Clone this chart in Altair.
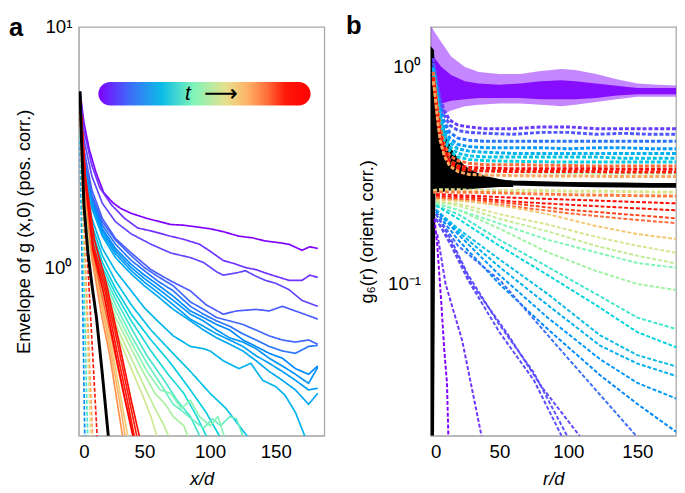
import altair as alt
import pandas as pd

FONT = "Liberation Sans"

# colour map for time t (0 = early / purple, 1 = late / red)
T_STOPS = [0.0, 0.15, 0.3, 0.45, 0.6, 0.7, 0.8, 0.88, 1.0]
T_COLORS = ["#8000ff", "#3c6ef8", "#0cbce6", "#80f5b8", "#e6e08e",
            "#ffb468", "#ff6a38", "#ff1a0a", "#ff0000"]

# ---------------- panel a : envelope of g(x,0) ----------------
# (t, style, x/d values, envelope values)
A_PURPLE = [
    (0.00, "solid", [1, 4, 8, 13, 19, 26, 32, 40, 52, 62, 70, 80, 92, 100, 110, 122, 132, 142, 152, 160, 170, 176, 182],
     [5.4, 4.0, 3.1, 2.5, 2.05, 1.86, 1.76, 1.68, 1.6, 1.55, 1.51, 1.5, 1.47, 1.45, 1.41, 1.35, 1.33, 1.29, 1.27, 1.25, 1.18, 1.22, 1.2]),
    (0.03, "solid", [1, 4, 10, 16, 25, 35, 45, 55, 70, 80, 92, 100, 110, 118, 127, 135, 142, 150, 160, 170, 176, 182],
     [5.3, 3.7, 2.66, 2.15, 1.82, 1.6, 1.46, 1.42, 1.35, 1.31, 1.25, 1.17, 1.07, 1.04, 1.0, 0.98, 0.95, 0.92, 0.885, 0.885, 0.93, 0.91]),
    (0.06, "solid", [1, 4, 10, 18, 28, 40, 55, 70, 85, 95, 105, 110, 120, 127, 135, 142, 150, 160, 170, 182],
     [5.3, 3.4, 2.4, 1.85, 1.55, 1.38, 1.25, 1.15, 1.1, 1.05, 0.96, 0.93, 0.95, 0.97, 0.92, 0.885, 0.86, 0.81, 0.73, 0.69]),
    (0.10, "solid", [1, 4, 10, 18, 28, 40, 55, 70, 85, 97, 110, 120, 135, 145, 155, 165, 177, 182],
     [5.2, 3.1, 2.1, 1.6, 1.32, 1.15, 0.98, 0.88, 0.8, 0.7, 0.64, 0.66, 0.67, 0.66, 0.69, 0.66, 0.625, 0.61]),
]
A_X_BLUE = [1, 4, 10, 18, 28, 40, 50, 60, 72, 85, 95, 105, 115, 125, 135, 145, 155, 165, 175, 182]
A_BLUE = [
    (0.13, "solid", A_X_BLUE, [5.2, 2.9, 2.0, 1.55, 1.3, 1.12, 1.0, 0.92, 0.84, 0.72, 0.67, 0.62, 0.6, 0.58, 0.55, 0.52, 0.5, 0.49, 0.5, 0.48]),
    (0.16, "solid", A_X_BLUE, [5.1, 2.8, 1.95, 1.5, 1.25, 1.07, 0.97, 0.88, 0.8, 0.69, 0.64, 0.6, 0.57, 0.53, 0.5, 0.47, 0.45, 0.44, 0.47, 0.475]),
    (0.19, "solid", A_X_BLUE, [5.1, 2.7, 1.9, 1.45, 1.2, 1.03, 0.93, 0.85, 0.76, 0.66, 0.62, 0.58, 0.55, 0.5, 0.47, 0.44, 0.42, 0.38, 0.36, 0.39]),
    (0.21, "solid", A_X_BLUE, [5.0, 2.65, 1.85, 1.42, 1.17, 1.0, 0.9, 0.82, 0.73, 0.64, 0.6, 0.55, 0.51, 0.49, 0.46, 0.42, 0.39, 0.36, 0.33, 0.385]),
    (0.23, "solid", A_X_BLUE, [5.0, 2.6, 1.8, 1.38, 1.14, 0.97, 0.87, 0.79, 0.7, 0.61, 0.57, 0.53, 0.5, 0.47, 0.43, 0.4, 0.37, 0.34, 0.31, 0.315]),
    (0.25, "solid", A_X_BLUE, [5.0, 2.55, 1.76, 1.35, 1.1, 0.94, 0.84, 0.76, 0.67, 0.6, 0.55, 0.51, 0.48, 0.45, 0.41, 0.37, 0.34, 0.31, 0.27, 0.3]),
    (0.28, "solid", [1, 4, 10, 18, 28, 40, 50, 60, 72, 85, 95, 100, 110, 122, 131, 140, 150, 157, 165, 172, 178],
     [5.0, 2.4, 1.6, 1.2, 0.97, 0.8, 0.68, 0.6, 0.52, 0.47, 0.46, 0.45, 0.41, 0.38, 0.4, 0.34, 0.32, 0.295, 0.25, 0.2, 0.17]),
]
A_CYAN = [
    (0.31, "solid", [1, 4, 10, 18, 28, 40, 55, 70, 85, 100, 112, 125, 135],
     [5.0, 2.3, 1.5, 1.12, 0.88, 0.7, 0.55, 0.45, 0.37, 0.3, 0.26, 0.21, 0.18]),
    (0.34, "solid", [1, 4, 10, 18, 28, 40, 55, 70, 85, 97, 107, 115],
     [5.0, 2.2, 1.42, 1.05, 0.82, 0.64, 0.5, 0.4, 0.31, 0.25, 0.2, 0.18]),
    (0.37, "solid", [1, 4, 10, 18, 28, 40, 55, 68, 80, 90, 97, 105],
     [5.0, 2.1, 1.35, 1.0, 0.78, 0.6, 0.45, 0.36, 0.3, 0.24, 0.2, 0.18]),
    (0.40, "solid", [1, 4, 10, 18, 28, 40, 52, 65, 75, 85, 92, 100],
     [5.0, 2.0, 1.3, 0.96, 0.74, 0.56, 0.43, 0.34, 0.28, 0.24, 0.2, 0.18]),
]
A_GREEN = [
    (0.43, "solid", [1, 4, 10, 18, 28, 40, 52, 62, 72, 80, 88, 95, 102, 108, 115, 120, 125, 128],
     [5.0, 1.95, 1.25, 0.92, 0.7, 0.52, 0.4, 0.33, 0.27, 0.25, 0.23, 0.215, 0.235, 0.22, 0.24, 0.235, 0.2, 0.18]),
    (0.46, "solid", [1, 4, 10, 18, 28, 40, 52, 62, 70, 78, 85, 92, 100, 106, 112],
     [5.0, 1.9, 1.2, 0.88, 0.66, 0.49, 0.37, 0.31, 0.3, 0.26, 0.28, 0.24, 0.22, 0.24, 0.19]),
    (0.50, "solid", [1, 4, 10, 18, 28, 40, 50, 58, 66, 72, 80, 86],
     [5.0, 1.85, 1.17, 0.84, 0.62, 0.46, 0.36, 0.3, 0.27, 0.24, 0.22, 0.18]),
    (0.53, "solid", [1, 4, 10, 18, 28, 40, 50, 58, 65, 72],
     [5.0, 1.8, 1.12, 0.8, 0.58, 0.42, 0.32, 0.26, 0.22, 0.18]),
    (0.56, "solid", [1, 4, 10, 18, 28, 40, 48, 55, 62],
     [5.0, 1.75, 1.07, 0.76, 0.55, 0.38, 0.3, 0.24, 0.18]),
]
A_DASHED = [
    (0.20, "dashed", [0.5, 2, 4.6, 5], [5.0, 1.6, 0.2, 0.17]),
    (0.40, "dashed", [0.5, 2.5, 6.8, 7.5], [5.0, 1.8, 0.2, 0.17]),
    (0.60, "dashed", [0.5, 3, 9, 10], [5.0, 1.9, 0.2, 0.17]),
    (0.72, "dashed", [0.5, 3, 10.5, 11.5], [5.0, 2.0, 0.2, 0.17]),
    (0.90, "dashed", [0.5, 4, 14, 15], [5.0, 2.0, 0.2, 0.17]),
]
A_ORANGE = [
    (0.65, "solid", [1, 5, 10, 18, 26, 33, 38], [5.1, 2.2, 1.2, 0.7, 0.44, 0.27, 0.19]),
    (0.70, "solid", [1, 5, 10, 18, 25, 32, 36], [5.1, 2.1, 1.15, 0.67, 0.43, 0.26, 0.19]),
    (0.75, "solid", [1, 5, 10, 17, 24, 30, 34], [5.1, 2.0, 1.1, 0.65, 0.42, 0.26, 0.19]),
    (0.80, "solid", [1, 5, 10, 18, 26, 34, 42], [5.1, 2.2, 1.2, 0.75, 0.48, 0.3, 0.2]),
]
A_RED = [
    (0.88, "solid", [1, 5, 11, 20, 30, 38, 45], [5.2, 2.4, 1.25, 0.85, 0.47, 0.29, 0.19]),
    (0.92, "solid", [1, 5, 11, 20, 29, 37, 43], [5.2, 2.3, 1.2, 0.8, 0.45, 0.28, 0.19]),
    (0.96, "solid", [1, 5, 12, 21, 31, 40, 47], [5.2, 2.4, 1.3, 0.86, 0.48, 0.28, 0.19]),
    (1.00, "solid", [1, 5, 11, 19, 28, 36, 42], [5.2, 2.3, 1.17, 0.78, 0.44, 0.27, 0.19]),
]
A_BLACK_X = [1, 2, 4, 7, 10, 13.5, 18, 22.5, 24]
A_BLACK_Y = [5.4, 3.5, 1.8, 1.15, 0.85, 0.62, 0.36, 0.2, 0.17]

# ---------------- panel b : g6(r) ----------------
B_BAND_X = [0.5, 3, 8, 15, 25, 35, 50, 65, 80, 95, 105, 120, 135, 150, 165, 182]
B_BAND_HI = [1.55, 1.45, 1.3, 1.12, 1.0, 0.95, 0.93, 0.93, 0.96, 0.98, 0.97, 0.93, 0.88, 0.84, 0.83, 0.82]
B_BAND_LO = [0.45, 0.55, 0.6, 0.63, 0.66, 0.67, 0.68, 0.68, 0.67, 0.66, 0.67, 0.69, 0.71, 0.73, 0.73, 0.73]
B_CORE_HI = [1.2, 1.1, 1.0, 0.92, 0.86, 0.84, 0.83, 0.84, 0.86, 0.87, 0.86, 0.84, 0.82, 0.8, 0.8, 0.8]
B_CORE_LO = [0.62, 0.66, 0.68, 0.7, 0.71, 0.72, 0.72, 0.72, 0.71, 0.71, 0.71, 0.72, 0.74, 0.75, 0.75, 0.75]

B_X_PLAT = [2, 3, 5, 7, 10, 14, 20, 28, 40, 60, 80, 100, 120, 140, 160, 182]
B_PLATEAU = [
    (0.04, "dashed", B_X_PLAT, [1.1, 1.0, 0.85, 0.72, 0.63, 0.57, 0.54, 0.53, 0.52, 0.52, 0.53, 0.53, 0.52, 0.52, 0.52, 0.52]),
    (0.09, "dashed", B_X_PLAT, [1.05, 0.97, 0.82, 0.69, 0.6, 0.54, 0.51, 0.5, 0.495, 0.49, 0.5, 0.5, 0.49, 0.495, 0.49, 0.49]),
    (0.16, "dashed", B_X_PLAT, [1.0, 0.95, 0.78, 0.66, 0.56, 0.5, 0.47, 0.46, 0.455, 0.455, 0.455, 0.455, 0.455, 0.455, 0.455, 0.455]),
    (0.22, "dashed", B_X_PLAT, [1.0, 0.92, 0.75, 0.63, 0.53, 0.47, 0.44, 0.43, 0.425, 0.425, 0.425, 0.42, 0.425, 0.425, 0.42, 0.42]),
    (0.27, "dashed", B_X_PLAT, [0.98, 0.9, 0.72, 0.6, 0.5, 0.45, 0.42, 0.41, 0.405, 0.4, 0.4, 0.4, 0.4, 0.4, 0.4, 0.4]),
    (0.31, "dashed", B_X_PLAT, [0.95, 0.88, 0.7, 0.57, 0.48, 0.43, 0.4, 0.39, 0.385, 0.385, 0.385, 0.385, 0.385, 0.38, 0.38, 0.38]),
    (0.34, "dashed", B_X_PLAT, [0.93, 0.86, 0.68, 0.55, 0.46, 0.41, 0.385, 0.375, 0.37, 0.368, 0.366, 0.365, 0.365, 0.365, 0.365, 0.365]),
    (0.80, "dashed", B_X_PLAT, [0.95, 0.85, 0.66, 0.53, 0.44, 0.39, 0.37, 0.36, 0.355, 0.355, 0.353, 0.352, 0.35, 0.35, 0.35, 0.35]),
    (0.50, "dashed", B_X_PLAT, [0.9, 0.8, 0.62, 0.5, 0.41, 0.37, 0.35, 0.34, 0.333, 0.33, 0.328, 0.326, 0.325, 0.325, 0.325, 0.325]),
    (0.95, "dashed", B_X_PLAT, [0.9, 0.82, 0.63, 0.5, 0.42, 0.37, 0.35, 0.345, 0.342, 0.34, 0.34, 0.34, 0.34, 0.338, 0.338, 0.338]),
    (0.90, "dashed", B_X_PLAT, [0.88, 0.8, 0.6, 0.48, 0.4, 0.36, 0.34, 0.335, 0.332, 0.33, 0.33, 0.33, 0.33, 0.328, 0.328, 0.328]),
    (0.72, "dashed", B_X_PLAT, [0.86, 0.78, 0.58, 0.46, 0.39, 0.35, 0.33, 0.32, 0.318, 0.316, 0.315, 0.315, 0.314, 0.313, 0.313, 0.313]),
    (0.58, "dashed", B_X_PLAT, [0.27, 0.27, 0.272, 0.272, 0.272, 0.272, 0.272, 0.271, 0.27, 0.27, 0.27, 0.268, 0.268, 0.267, 0.266, 0.265]),
    (0.78, "dashed", B_X_PLAT, [0.265, 0.265, 0.266, 0.266, 0.266, 0.266, 0.265, 0.265, 0.264, 0.262, 0.26, 0.258, 0.257, 0.256, 0.255, 0.254]),
]
B_DECAY = [
    (0.97, "dashed", [4, 30, 60, 100, 140, 182], [0.26, 0.255, 0.25, 0.245, 0.24, 0.235]),
    (0.93, "dashed", [4, 30, 60, 100, 140, 182], [0.255, 0.25, 0.24, 0.232, 0.225, 0.218]),
    (0.85, "dashed", [4, 30, 60, 100, 140, 182], [0.25, 0.245, 0.235, 0.22, 0.21, 0.2]),
    (0.80, "dashed", [4, 30, 60, 100, 140, 182], [0.25, 0.24, 0.228, 0.212, 0.2, 0.19]),
    (0.66, "dashed", [4, 30, 60, 85, 120, 150, 182], [0.245, 0.24, 0.225, 0.21, 0.185, 0.17, 0.16]),
    (0.58, "dashed", [4, 20, 50, 85, 120, 150, 182], [0.24, 0.235, 0.21, 0.188, 0.165, 0.15, 0.138]),
    (0.54, "dashed", [4, 20, 50, 85, 120, 150, 182], [0.24, 0.23, 0.2, 0.175, 0.15, 0.135, 0.123]),
    (0.49, "dashed", [4, 20, 50, 85, 120, 150, 182], [0.235, 0.22, 0.18, 0.14, 0.115, 0.1, 0.093]),
    (0.45, "dashed", [4, 20, 50, 85, 120, 150, 182], [0.235, 0.22, 0.19, 0.16, 0.14, 0.125, 0.118]),
    (0.40, "dashed", [4, 20, 50, 85, 120, 150, 182], [0.23, 0.21, 0.16, 0.12, 0.09, 0.07, 0.061]),
    (0.36, "dashed", [4, 20, 50, 85, 120, 150, 182], [0.23, 0.2, 0.15, 0.11, 0.08, 0.06, 0.05]),
    (0.30, "dashed", [4, 20, 50, 85, 123, 150, 182], [0.22, 0.18, 0.13, 0.09, 0.058, 0.047, 0.041]),
    (0.27, "dashed", [4, 20, 50, 85, 123, 150, 182], [0.22, 0.175, 0.12, 0.08, 0.052, 0.043, 0.037]),
    (0.22, "dashed", [4, 20, 50, 85, 123, 150, 182], [0.22, 0.17, 0.11, 0.07, 0.045, 0.035, 0.029]),
    (0.19, "dashed", [4, 20, 50, 85, 123, 150, 182], [0.215, 0.16, 0.1, 0.062, 0.038, 0.028, 0.02]),
    (0.15, "dashed", [4, 20, 51, 99, 149, 155], [0.21, 0.15, 0.103, 0.046, 0.02, 0.018]),
    (0.08, "dashed", [4, 15, 27, 50, 75, 99, 102], [0.21, 0.16, 0.111, 0.065, 0.039, 0.02, 0.018]),
    (0.07, "dashed", [4, 15, 27, 50, 75, 95, 98], [0.2, 0.15, 0.105, 0.06, 0.036, 0.02, 0.018]),
    (0.06, "dashed", [4, 15, 30, 55, 80, 108, 111], [0.2, 0.155, 0.1, 0.06, 0.034, 0.02, 0.018]),
    (0.03, "dashed", [5, 11, 23, 37, 39], [0.17, 0.1, 0.055, 0.02, 0.018]),
    (0.00, "dashed", [3, 5, 8, 10, 12, 13, 14], [0.2, 0.15, 0.08, 0.05, 0.035, 0.02, 0.018]),
]
B_BLACK_AREA_X = [0, 2.6, 3.6, 6, 8.6, 12, 15.8, 20, 25, 32, 39, 50, 60]
B_BLACK_AREA_HI = [1.25, 1.2, 0.78, 0.64, 0.55, 0.47, 0.415, 0.38, 0.35, 0.33, 0.316, 0.305, 0.298]
B_BLACK_AREA_LO = [0.02, 0.02, 0.265, 0.265, 0.265, 0.27, 0.27, 0.27, 0.272, 0.275, 0.277, 0.28, 0.28]
B_BLACK_X = [38, 60, 80, 100, 120, 140, 160, 182]
B_BLACK_Y = [0.298, 0.292, 0.29, 0.288, 0.287, 0.286, 0.285, 0.285]

# ---------------- helpers ----------------
def series_frame(series):
    rows = []
    for sid, (t, style, xs, ys) in enumerate(series):
        for i, (x, y) in enumerate(zip(xs, ys)):
            rows.append({"sid": sid, "t": t, "style": style, "x": x, "y": y, "i": i})
    return pd.DataFrame(rows)


COLOR = alt.Color("t:Q", scale=alt.Scale(domain=T_STOPS, range=T_COLORS), legend=None)
DASH_A = alt.StrokeDash("style:N", scale=alt.Scale(domain=["solid", "dashed"], range=[[1, 0], [4, 2]]), legend=None)
DASH_B = alt.StrokeDash("style:N", scale=alt.Scale(domain=["solid", "dashed"], range=[[1, 0], [3, 1.5]]), legend=None)

W, H = 250, 416

XA_SCALE = alt.Scale(domain=[0, 187], nice=False)
YA_SCALE = alt.Scale(type="log", domain=[0.2, 10], nice=False)
XA_AXIS = alt.Axis(values=[0, 50, 100, 150], title="x/d", titleFontStyle="italic", labelPadding=7, titlePadding=9)
YA_AXIS = alt.Axis(values=[1, 10], labelExpr="datum.value >= 9 ? '10¹' : '10⁰'",
                   title="Envelope of g (x,0) (pos. corr.)", labelPadding=7, titlePadding=11)

XB_SCALE = alt.Scale(domain=[0, 178], nice=False)
YB_SCALE = alt.Scale(type="log", domain=[0.02, 1.53], nice=False)
XB_AXIS = alt.Axis(values=[0, 50, 100, 150], title="r/d", titleFontStyle="italic", labelPadding=7, titlePadding=9)
YB_AXIS = alt.Axis(values=[0.1, 1], labelExpr="datum.value >= 0.9 ? '10⁰' : '10⁻¹'",
                   title="g₆(r) (orient. corr.)", labelPadding=10, titlePadding=11)


def xa(field="x:Q"):
    return alt.X(field, scale=XA_SCALE, axis=XA_AXIS)


def ya(field="y:Q"):
    return alt.Y(field, scale=YA_SCALE, axis=YA_AXIS)


def xb(field="x:Q"):
    return alt.X(field, scale=XB_SCALE, axis=XB_AXIS)


def yb(field="y:Q"):
    return alt.Y(field, scale=YB_SCALE, axis=YB_AXIS)


# ---------------- panel a ----------------
a_df = series_frame(A_PURPLE + A_BLUE + A_CYAN + A_GREEN + A_DASHED + A_ORANGE + A_RED)
a_lines = alt.Chart(a_df).mark_line(clip=True, strokeWidth=1.7).encode(
    x=xa(), y=ya(), detail="sid:N", order="i:Q", color=COLOR, strokeDash=DASH_A)
a_black = alt.Chart(pd.DataFrame({"x": A_BLACK_X, "y": A_BLACK_Y})).mark_line(
    clip=True, strokeWidth=3, color="black").encode(x=xa(), y=ya())

grad = alt.LinearGradient(
    gradient="linear", x1=0, x2=1, y1=0, y2=0,
    stops=[alt.GradientStop(color=c, offset=o) for o, c in zip(T_STOPS, T_COLORS)])
bar = alt.Chart(pd.DataFrame({"k": [0]})).mark_rect(cornerRadius=12, color=grad).encode(
    x=alt.value(20), x2=alt.value(236), y=alt.value(56), y2=alt.value(80))
t_text = alt.Chart(pd.DataFrame({"s": ["t"]})).mark_text(
    font=FONT, fontSize=21, fontStyle="italic", align="center", baseline="middle").encode(
    text="s:N", x=alt.value(111), y=alt.value(68))
arrow = alt.Chart(pd.DataFrame({"s": ["⟶"]})).mark_text(
    font="DejaVu Sans", fontSize=24, align="center", baseline="middle").encode(
    text="s:N", x=alt.value(145), y=alt.value(68))
a_letter = alt.Chart(pd.DataFrame({"s": ["a"]})).mark_text(
    font=FONT, fontSize=26, fontWeight="bold", align="left", baseline="top").encode(
    text="s:N", x=alt.value(-71), y=alt.value(-12))

panel_a = alt.layer(a_lines, a_black, bar, t_text, arrow, a_letter).properties(width=W, height=H)

# ---------------- panel b ----------------
band_df = pd.DataFrame({"x": B_BAND_X, "lo": B_BAND_LO, "hi": B_BAND_HI,
                        "clo": B_CORE_LO, "chi": B_CORE_HI})
b_band = alt.Chart(band_df).mark_area(clip=True, color="#8a10ff", opacity=0.5).encode(
    x=xb(), y=yb("lo:Q"), y2="hi:Q")
b_core = alt.Chart(band_df).mark_area(clip=True, color="#8000ff", opacity=0.9).encode(
    x=xb(), y=yb("clo:Q"), y2="chi:Q")

blk_df = pd.DataFrame({"x": B_BLACK_AREA_X, "lo": B_BLACK_AREA_LO, "hi": B_BLACK_AREA_HI})
b_black_area = alt.Chart(blk_df).mark_area(clip=True, color="black").encode(
    x=xb(), y=yb("lo:Q"), y2="hi:Q")

b_plat = alt.Chart(series_frame(B_PLATEAU)).mark_line(clip=True, strokeWidth=3).encode(
    x=xb(), y=yb(), detail="sid:N", order="i:Q", color=COLOR, strokeDash=DASH_B)
b_decay = alt.Chart(series_frame(B_DECAY)).mark_line(clip=True, strokeWidth=2).encode(
    x=xb(), y=yb(), detail="sid:N", order="i:Q", color=COLOR, strokeDash=DASH_B)
b_black = alt.Chart(pd.DataFrame({"x": B_BLACK_X, "y": B_BLACK_Y})).mark_line(
    clip=True, strokeWidth=5, color="black").encode(x=xb(), y=yb())
b_letter = alt.Chart(pd.DataFrame({"s": ["b"]})).mark_text(
    font=FONT, fontSize=26, fontWeight="bold", align="left", baseline="top").encode(
    text="s:N", x=alt.value(-86), y=alt.value(-14))

panel_b = alt.layer(b_band, b_core, b_black_area, b_decay, b_plat, b_black, b_letter).properties(width=W, height=H)

chart = alt.hconcat(panel_a, panel_b, spacing=108, bounds="flush").properties(
    padding=0
).configure_view(
    stroke="#a8a8a8", strokeWidth=1.3
).configure_axis(
    labelFont=FONT, titleFont=FONT, labelFontSize=19, titleFontSize=18.5,
    titleFontWeight="normal", labelColor="black", titleColor="black",
    grid=False, ticks=False, domainColor="#b8b8b8", domainWidth=1.5
)

chart.save("out.html", embed_options={"renderer": "svg", "actions": False})
